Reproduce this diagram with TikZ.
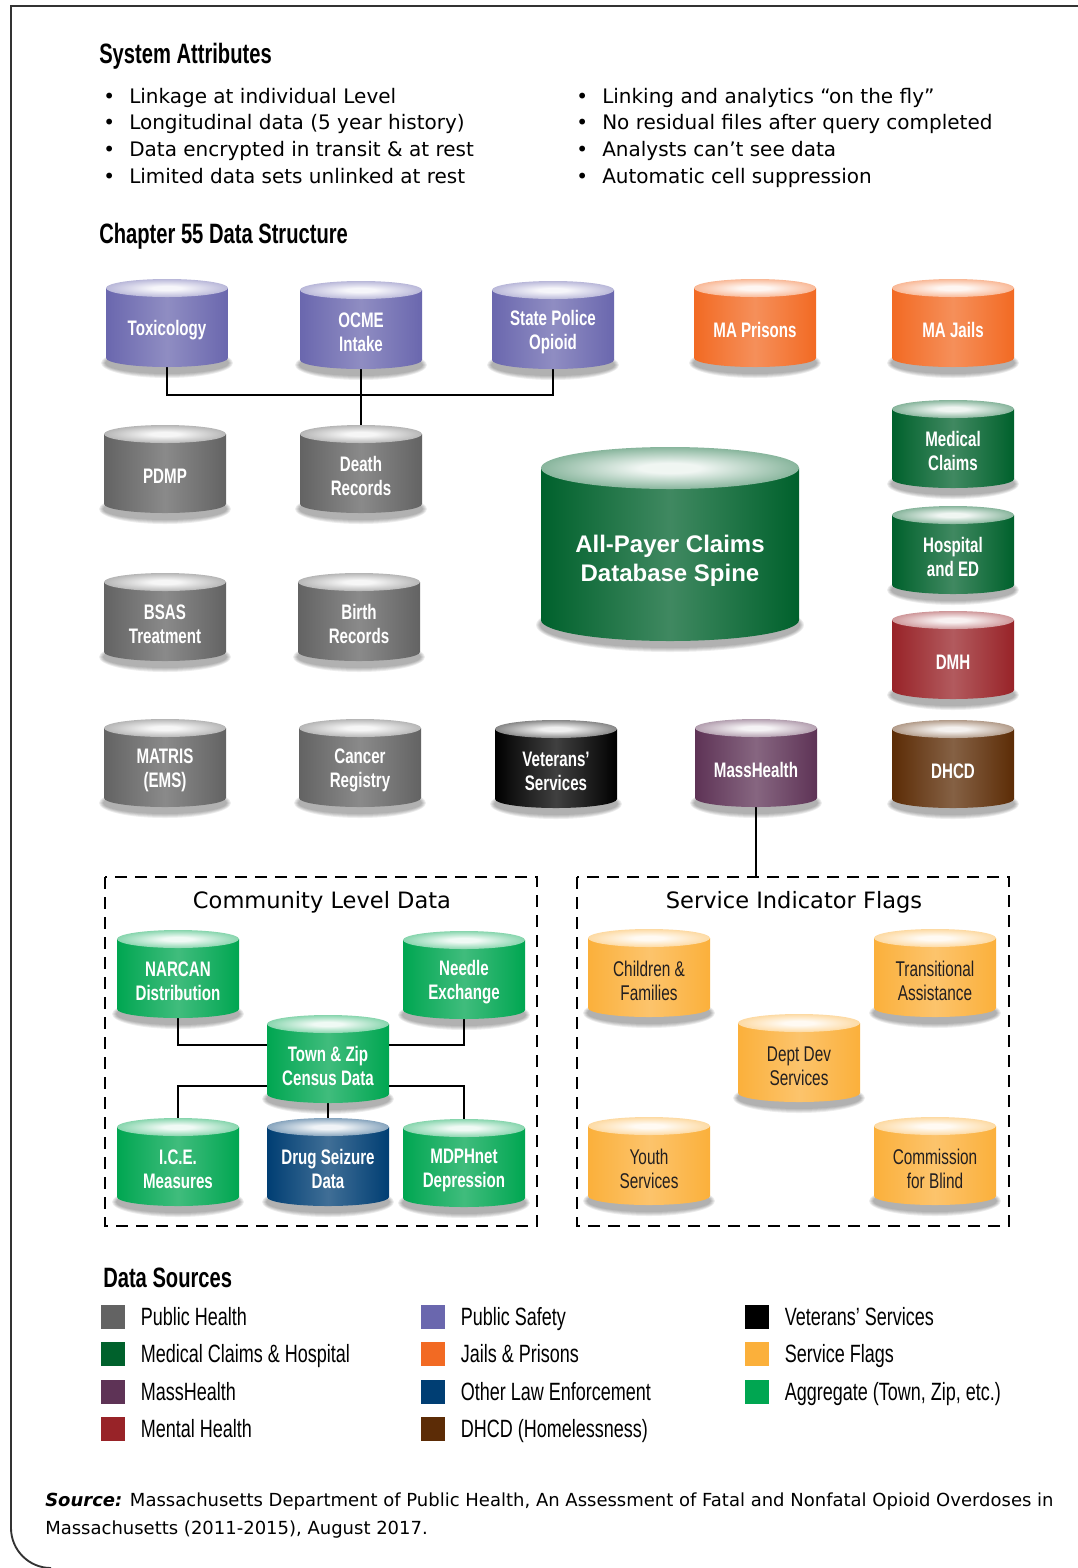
\documentclass[tikz,border=0pt]{standalone}
\usepackage{fontspec}
\setmainfont{DejaVu Sans}
\newfontfamily\condfont{Liberation Sans}[FakeStretch=0.72]
\newfontfamily\apcdfont{Liberation Sans}
\usepackage{xcolor}
\usepackage{tikz}
\usetikzlibrary{backgrounds}
\definecolor{pubhealth}{HTML}{636363}
\definecolor{pubsafety}{HTML}{6A67AE}
\definecolor{jails}{HTML}{F26A23}
\definecolor{medgreen}{HTML}{00612C}
\definecolor{masshealth}{HTML}{5E3356}
\definecolor{lawenf}{HTML}{003E73}
\definecolor{mentalh}{HTML}{982328}
\definecolor{dhcd}{HTML}{5C2C06}
\definecolor{veterans}{HTML}{000000}
\definecolor{flags}{HTML}{FBB03B}
\definecolor{aggregate}{HTML}{00A651}
\definecolor{flagtext}{HTML}{231F20}
\colorlet{cyltop}{white}
\colorlet{cylrim}{gray}
\pgfdeclareradialshading[cyltop,cylrim]{cylcap}{\pgfpoint{0bp}{0bp}}{color(0bp)=(cyltop); color(6bp)=(cyltop); color(50bp)=(cylrim)}

\begin{document}
\begin{tikzpicture}[
x=0.75pt,y=-0.75pt,
pics/dbcyl/.style n args={4}{code={
  \colorlet{cylrim}{#1}\colorlet{cyltop}{#1!6!white}
  \foreach \s in {0,...,4}
    \fill[black,opacity=0.07] (0,#3+#4+5) ellipse[x radius=#2+5-\s, y radius=#3+6-\s];
  \shade[left color=#1, right color=#1, middle color=#1!75!white]
    (-#2,#3) -- (-#2,#3+#4) arc[start angle=180,end angle=0,x radius=#2,y radius=#3] -- (#2,#3) -- cycle;
  \shade[shading=cylcap] (0,#3) ellipse[x radius=#2, y radius=#3];
}},
dblabel/.style={text=white,font=\condfont\bfseries\fontsize{15.75}{18}\selectfont,align=center,inner sep=0pt},
flaglabel/.style={dblabel,text=flagtext,font=\condfont\fontsize{16}{18}\selectfont},
apcdlabel/.style={dblabel,font=\apcdfont\bfseries\fontsize{18}{21.75}\selectfont},
heading/.style={font=\condfont\bfseries\fontsize{21}{24}\selectfont,inner sep=0pt,anchor=base west},
bullets/.style={font=\fontsize{15}{20}\selectfont,inner sep=0pt,anchor=base west},
boxtitle/.style={font=\fontsize{16.9}{20}\selectfont,inner sep=0pt},
legtext/.style={font=\condfont\fontsize{18.75}{20}\selectfont,inner sep=0pt,text height=13.4pt,text depth=0pt},
swatch/.style={minimum size=18pt,inner sep=0pt},
link/.style={line width=2.2pt},
groupbox/.style={line width=1.9pt,dash pattern=on 9pt off 6pt},
frame/.style={line width=1.4pt,draw=black!80},
]
\useasboundingbox (0,0) rectangle (1078,1568);
\draw[frame] (1078,6) -- (11,6) -- (11,1528) arc[start angle=180,end angle=90,radius=40];

% attributes
\node[heading] (sysattr) at (99,63) {System Attributes};
\node[bullets] (attrL) at (103,103) {\begin{tabular}[t]{@{}p{19.5pt}@{}l@{}}
\textbullet & Linkage at individual Level\\
\textbullet & Longitudinal data (5 year history)\\
\textbullet & Data encrypted in transit \& at rest\\
\textbullet & Limited data sets unlinked at rest
\end{tabular}};
\node[bullets] (attrR) at (576,103) {\begin{tabular}[t]{@{}p{19.5pt}@{}l@{}}
\textbullet & Linking and analytics “on the fly”\\
\textbullet & No residual files after query completed\\
\textbullet & Analysts can’t see data\\
\textbullet & Automatic cell suppression
\end{tabular}};
\node[heading] (chapter) at (99,243) {Chapter 55 Data Structure};

% data sources
\foreach \n/\x/\y/\c/\t in {
  tox/167/279/pubsafety/Toxicology,
  ocme/361/281/pubsafety/{OCME\\Intake},
  stpol/553/281/pubsafety/{State Police\\Opioid},
  prisons/755/279/jails/MA Prisons,
  jails/953/279/jails/MA Jails,
  pdmp/165/425/pubhealth/PDMP,
  death/361/425/pubhealth/{Death\\Records},
  medcl/953/400/medgreen/{Medical\\Claims},
  hosp/953/506/medgreen/{Hospital\\and ED},
  dmh/953/611/mentalh/DMH,
  bsas/165/573/pubhealth/{BSAS\\Treatment},
  birth/359/573/pubhealth/{Birth\\Records},
  matris/165/719/pubhealth/{MATRIS\\(EMS)},
  cancer/360/719/pubhealth/{Cancer\\Registry},
  vets/556/720/veterans/{Veterans’\\Services},
  mass/756/719/masshealth/MassHealth,
  dhcd/953/720/dhcd/DHCD,
  narcan/178/930/aggregate/{NARCAN\\Distribution},
  needle/464/931/aggregate/{Needle\\Exchange},
  town/328/1015/aggregate/{Town \& Zip\\Census Data},
  ice/178/1118/aggregate/{I.C.E.\\Measures},
  drug/328/1118/lawenf/{Drug Seizure\\Data},
  mdph/464/1119/aggregate/{MDPHnet\\Depression}}
{
  \pic at (\x,\y) {dbcyl={\c}{61}{9}{70}};
  \node[dblabel] (\n) at (\x,\y+51) {\t};
}
\pic at (670,447) {dbcyl={medgreen}{129}{21}{152}};
\node[apcdlabel] (apcd) at (670,561) {All-Payer Claims\\Database Spine};

% service flags
\foreach \n/\x/\y/\t in {
  chfam/649/929/{Children \&\\Families},
  trans/935/929/{Transitional\\Assistance},
  ddev/799/1014/{Dept Dev\\Services},
  youth/649/1117/{Youth\\Services},
  blind/935/1117/{Commission\\for Blind}}
{
  \pic at (\x,\y) {dbcyl={flags}{61}{9}{70}};
  \node[flaglabel] (\n) at (\x,\y+52) {\t};
}

% groups
\draw[groupbox] (105,877) rectangle (537,1226);
\draw[groupbox] (577,877) rectangle (1009,1226);
\node[boxtitle] (commtitle) at (322,902) {Community Level Data};
\node[boxtitle] (flagtitle) at (794,902) {Service Indicator Flags};

% links
\coordinate (bus) at (361,395);
\coordinate (cj1) at (328,1045);
\coordinate (cj2) at (328,1086);
\coordinate (flagtop) at (756,877);
\begin{scope}[on background layer]
\draw[link] (tox) |- (bus) -| (stpol);
\draw[link] (ocme) -- (death);
\draw[link] (mass) -- (flagtop);
\draw[link] (narcan) |- (cj1) -| (needle);
\draw[link] (ice) |- (cj2) -| (mdph);
\draw[link] (town) -- (drug);
\end{scope}

% legend
\node[heading] (legend) at (103,1287) {Data Sources};
\foreach \c/\t/\x/\y in {
  pubhealth/Public Health/113/1316.5,
  medgreen/Medical Claims \& Hospital/113/1354,
  masshealth/MassHealth/113/1391.5,
  mentalh/Mental Health/113/1429,
  pubsafety/Public Safety/433/1316.5,
  jails/Jails \& Prisons/433/1354,
  lawenf/Other Law Enforcement/433/1391.5,
  dhcd/DHCD (Homelessness)/433/1429,
  veterans/Veterans’ Services/757/1316.5,
  flags/Service Flags/757/1354,
  aggregate/{Aggregate (Town, Zip, etc.)}/757/1391.5}
  \node[swatch,fill=\c,label={[legtext,label distance=11.5pt]right:\t}] (key-\c) at (\x,\y) {};

\node[anchor=base west,inner sep=0pt,align=left,font=\fontsize{13.5}{21}\selectfont] (source) at (45,1534)
  {\textbf{\textit{Source:}} Massachusetts Department of Public Health, An Assessment of Fatal and Nonfatal Opioid Overdoses in\\
  Massachusetts (2011-2015), August 2017.};
\end{tikzpicture}
\end{document}
